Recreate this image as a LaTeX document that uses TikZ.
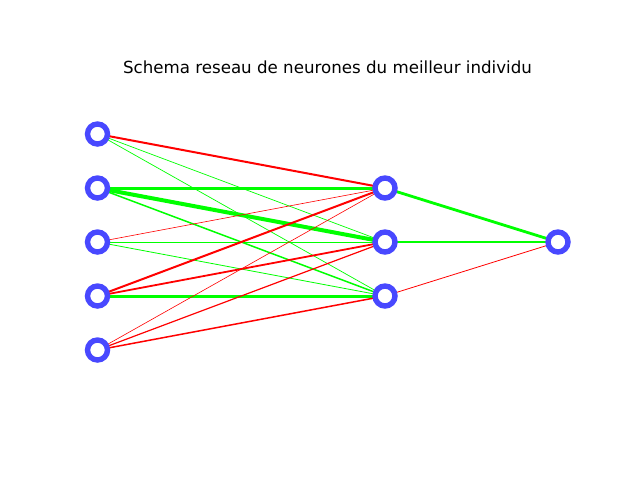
\documentclass[tikz,border=0pt]{standalone}
\usepackage{fontspec}
\setmainfont{DejaVu Sans}
\definecolor{ringblue}{RGB}{72,72,255}
\definecolor{pos}{RGB}{0,255,0}
\definecolor{neg}{RGB}{255,0,0}
\begin{document}
\begin{tikzpicture}[x=1pt,y=-1pt,
  neuron/.style={circle,draw=ringblue,line width=5.4pt,fill=white,minimum size=20pt,inner sep=0pt},
  wpos/.style={draw=pos},
  wneg/.style={draw=neg}]
\useasboundingbox (0,0) rectangle (640,480);
\node (title) at (327.5,67) {\fontsize{16.67}{20}\selectfont Schema reseau de neurones du meilleur individu};
% coordinates
\coordinate (i1) at (97.5,134);
\coordinate (i2) at (97.5,188);
\coordinate (i3) at (97.5,242);
\coordinate (i4) at (97.5,296);
\coordinate (i5) at (97.5,350);
\coordinate (h1) at (385,188);
\coordinate (h2) at (385,242);
\coordinate (h3) at (385,296);
\coordinate (o1) at (558,242);
% connections
\draw[wneg,line width=2pt] (i1) -- (h1);
\draw[wpos,line width=0.7pt] (i1) -- (h2);
\draw[wpos,line width=0.7pt] (i1) -- (h3);
\draw[wpos,line width=3pt] (i2) -- (h1);
\draw[wpos,line width=4pt] (i2) -- (h2);
\draw[wpos,line width=1.5pt] (i2) -- (h3);
\draw[wneg,line width=0.6pt] (i3) -- (h1);
\draw[wpos,line width=0.8pt] (i3) -- (h2);
\draw[wpos,line width=0.8pt] (i3) -- (h3);
\draw[wneg,line width=2pt] (i4) -- (h1);
\draw[wneg,line width=1.8pt] (i4) -- (h2);
\draw[wpos,line width=3pt] (i4) -- (h3);
\draw[wneg,line width=0.6pt] (i5) -- (h1);
\draw[wneg,line width=1.2pt] (i5) -- (h2);
\draw[wneg,line width=1.5pt] (i5) -- (h3);
\draw[wpos,line width=2.8pt] (h1) -- (o1);
\draw[wpos,line width=1.8pt] (h2) -- (o1);
\draw[wneg,line width=0.8pt] (h3) -- (o1);
% neurons
\foreach \n in {i1,i2,i3,i4,i5,h1,h2,h3,o1}
  \node[neuron] (n\n) at (\n) {};
\end{tikzpicture}
\end{document}
